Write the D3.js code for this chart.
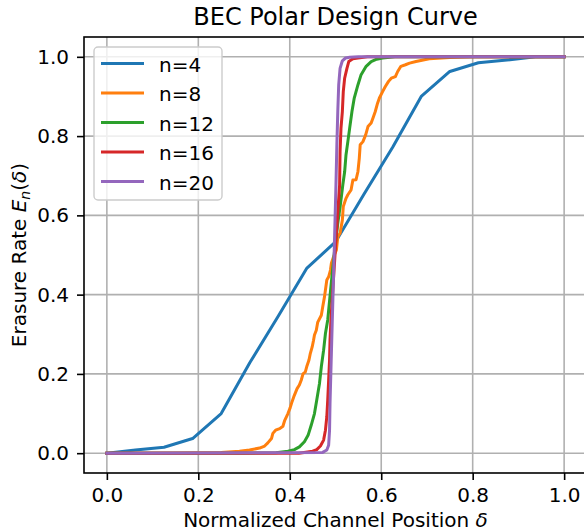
<!DOCTYPE html>
<html>
<head>
<meta charset="utf-8">
<script src="https://cdn.jsdelivr.net/npm/d3@7"></script>
<style>
    body { margin: 0; background: #fff; }
    svg { display: block; overflow: hidden; font-family: "DejaVu Sans", sans-serif; }
</style>
</head>
<body>
<svg id="chart" width="584" height="531"></svg>
<script>
// ---- data: [delta, erasure rate] ----
const curveN4 = [
    [0, 0], [0.0625, 0.008], [0.125, 0.015], [0.1875, 0.037], [0.25, 0.100],
    [0.3125, 0.228], [0.375, 0.346], [0.4375, 0.467], [0.5, 0.533], [0.5625, 0.654],
    [0.625, 0.772], [0.6875, 0.900], [0.75, 0.963], [0.8125, 0.985], [0.875, 0.992],
    [0.9375, 1.0], [1.0, 1.0]
];
const curveN8 = [
    [0, 0], [0.15, 0.0005], [0.25, 0.002], [0.29, 0.005], [0.312, 0.008], [0.334, 0.013],
    [0.345, 0.018], [0.352, 0.026], [0.36, 0.037], [0.363, 0.05], [0.369, 0.058],
    [0.378, 0.062], [0.385, 0.068], [0.389, 0.083], [0.396, 0.1], [0.401, 0.115],
    [0.405, 0.13], [0.41, 0.146], [0.416, 0.163], [0.421, 0.172], [0.425, 0.184],
    [0.429, 0.2], [0.434, 0.205], [0.437, 0.218], [0.442, 0.235], [0.445, 0.252],
    [0.449, 0.268], [0.452, 0.285], [0.454, 0.298], [0.458, 0.31], [0.461, 0.33],
    [0.469, 0.348], [0.472, 0.369], [0.476, 0.395], [0.481, 0.437], [0.485, 0.445],
    [0.489, 0.462], [0.491, 0.479], [0.496, 0.496], [0.502, 0.513], [0.505, 0.546],
    [0.51, 0.555], [0.515, 0.588], [0.517, 0.622], [0.523, 0.643], [0.527, 0.652],
    [0.534, 0.664], [0.538, 0.689], [0.545, 0.69], [0.549, 0.71], [0.552, 0.744],
    [0.554, 0.778], [0.56, 0.786], [0.566, 0.803], [0.571, 0.824], [0.578, 0.833],
    [0.583, 0.849], [0.587, 0.862], [0.592, 0.883], [0.596, 0.896], [0.603, 0.912],
    [0.609, 0.925], [0.616, 0.938], [0.622, 0.946], [0.631, 0.95], [0.636, 0.963],
    [0.643, 0.976], [0.653, 0.98], [0.662, 0.984], [0.676, 0.988], [0.705, 0.995],
    [0.75, 0.998], [0.8, 1.0], [1.0, 1.0]
];
const curveN12 = [
    [0, 0], [0.3, 0.0], [0.37, 0.001], [0.396, 0.005], [0.41, 0.009], [0.421, 0.016],
    [0.432, 0.029], [0.44, 0.045], [0.447, 0.071], [0.454, 0.1], [0.459, 0.134],
    [0.465, 0.176], [0.469, 0.218], [0.474, 0.26], [0.478, 0.302], [0.483, 0.336],
    [0.49, 0.42], [0.497, 0.5], [0.505, 0.58], [0.511, 0.63], [0.516, 0.677],
    [0.52, 0.71], [0.523, 0.753], [0.527, 0.786], [0.531, 0.82], [0.536, 0.862],
    [0.541, 0.896], [0.549, 0.929], [0.556, 0.955], [0.567, 0.976], [0.578, 0.988],
    [0.59, 0.994], [0.603, 0.997], [0.63, 1.0], [1.0, 1.0]
];
const curveN16 = [
    [0, 0], [0.42, 0.0], [0.45, 0.005], [0.459, 0.009], [0.467, 0.018], [0.474, 0.033],
    [0.478, 0.058], [0.481, 0.092], [0.483, 0.134], [0.485, 0.184], [0.487, 0.235],
    [0.488, 0.285], [0.49, 0.336], [0.5, 0.52], [0.509, 0.677], [0.51, 0.761],
    [0.512, 0.82], [0.515, 0.862], [0.517, 0.912], [0.52, 0.946], [0.525, 0.971],
    [0.529, 0.988], [0.538, 0.995], [0.549, 0.997], [0.57, 1.0], [1.0, 1.0]
];
const curveN20 = [
    [0, 0], [0.472, 0.002], [0.481, 0.008], [0.485, 0.02], [0.487, 0.058],
    [0.488, 0.125], [0.49, 0.21], [0.493, 0.336], [0.497, 0.5], [0.501, 0.677],
    [0.503, 0.778], [0.505, 0.862], [0.507, 0.929], [0.51, 0.971], [0.515, 0.99],
    [0.522, 0.997], [0.531, 0.999], [0.55, 1.0], [1.0, 1.0]
];
const seriesLabels = ["n=4", "n=8", "n=12", "n=16", "n=20"];
const seriesColors = ["#1f77b4", "#ff7f0e", "#2ca02c", "#d62728", "#9467bd"];
const tickValues = [0, 0.2, 0.4, 0.6, 0.8, 1.0];

const series = [curveN4, curveN8, curveN12, curveN16, curveN20].map((pts, i) => ({
    label: seriesLabels[i], color: seriesColors[i], points: pts
}));

const margin = { top: 37, left: 84 };
const width = 503, height = 436;

const svg = d3.select("#chart");

const x = d3.scaleLinear().domain([-0.05, 1.05]).range([margin.left, margin.left + width]);
const y = d3.scaleLinear().domain([-0.05, 1.05]).range([margin.top + height, margin.top]);

// grid
const grid = svg.append("g");
grid.selectAll("line.gx").data(tickValues).join("line")
    .attr("x1", d => x(d)).attr("x2", d => x(d))
    .attr("y1", margin.top).attr("y2", margin.top + height)
    .attr("stroke", "#b0b0b0").attr("stroke-width", 1.6);
grid.selectAll("line.gy").data(tickValues).join("line")
    .attr("y1", d => y(d)).attr("y2", d => y(d))
    .attr("x1", margin.left).attr("x2", margin.left + width)
    .attr("stroke", "#b0b0b0").attr("stroke-width", 1.6);

// curves
const line = d3.line().x(d => x(d[0])).y(d => y(d[1]));
svg.append("g").selectAll("path").data(series).join("path")
    .attr("d", d => line(d.points))
    .attr("fill", "none")
    .attr("stroke", d => d.color)
    .attr("stroke-width", 3)
    .attr("stroke-linejoin", "round")
    .attr("stroke-linecap", "square");

// axes
const fmt = d3.format(".1f");
const xAxis = svg.append("g")
    .attr("transform", `translate(0, ${margin.top + height})`)
    .call(d3.axisBottom(x).tickValues(tickValues).tickFormat(fmt).tickSize(7).tickPadding(8));
const yAxis = svg.append("g")
    .attr("transform", `translate(${margin.left}, 0)`)
    .call(d3.axisLeft(y).tickValues(tickValues).tickFormat(fmt).tickSize(7).tickPadding(8));
[xAxis, yAxis].forEach(a => {
    a.select(".domain").remove();
    a.selectAll(".tick line").attr("stroke", "#000").attr("stroke-width", 1.6);
    a.selectAll(".tick text")
        .attr("fill", "#000")
        .style("font-family", "DejaVu Sans")
        .style("font-size", "20px");
});

// frame
svg.append("rect")
    .attr("x", margin.left).attr("y", margin.top)
    .attr("width", width).attr("height", height)
    .attr("fill", "none").attr("stroke", "#000").attr("stroke-width", 1.6);

// title
svg.append("text")
    .attr("x", margin.left + width / 2).attr("y", 25)
    .attr("text-anchor", "middle")
    .style("font-size", "24px")
    .text("BEC Polar Design Curve");

// x label
const xLabel = svg.append("text")
    .attr("x", margin.left + width / 2).attr("y", 527)
    .attr("text-anchor", "middle")
    .style("font-size", "20px");
xLabel.append("tspan").text("Normalized Channel Position ");
xLabel.append("tspan").attr("font-style", "italic").text("δ");

// y label
const yLabel = svg.append("text")
    .attr("transform", `translate(26, ${margin.top + height / 2}) rotate(-90)`)
    .attr("text-anchor", "middle")
    .style("font-size", "20px");
yLabel.append("tspan").text("Erasure Rate ");
yLabel.append("tspan").attr("font-style", "italic").text("E");
yLabel.append("tspan").attr("font-style", "italic").attr("dy", 4).style("font-size", "14px").text("n");
yLabel.append("tspan").attr("dy", -4).text("(");
yLabel.append("tspan").attr("font-style", "italic").text("δ");
yLabel.append("tspan").text(")");

// legend
const legend = svg.append("g").attr("transform", "translate(94, 47)");
legend.append("rect")
    .attr("width", 128).attr("height", 153).attr("rx", 4)
    .attr("fill", "#fff").attr("fill-opacity", 0.8)
    .attr("stroke", "#cccccc").attr("stroke-width", 1.4);
const rows = legend.selectAll("g.row").data(series).join("g")
    .attr("class", "row")
    .attr("transform", (d, i) => `translate(0, ${16.5 + i * 29.5})`);
rows.append("line")
    .attr("x1", 7).attr("x2", 50)
    .attr("stroke", d => d.color).attr("stroke-width", 3);
rows.append("text")
    .attr("x", 65).attr("y", 8)
    .style("font-size", "20px")
    .text(d => d.label);
</script>
</body>
</html>
